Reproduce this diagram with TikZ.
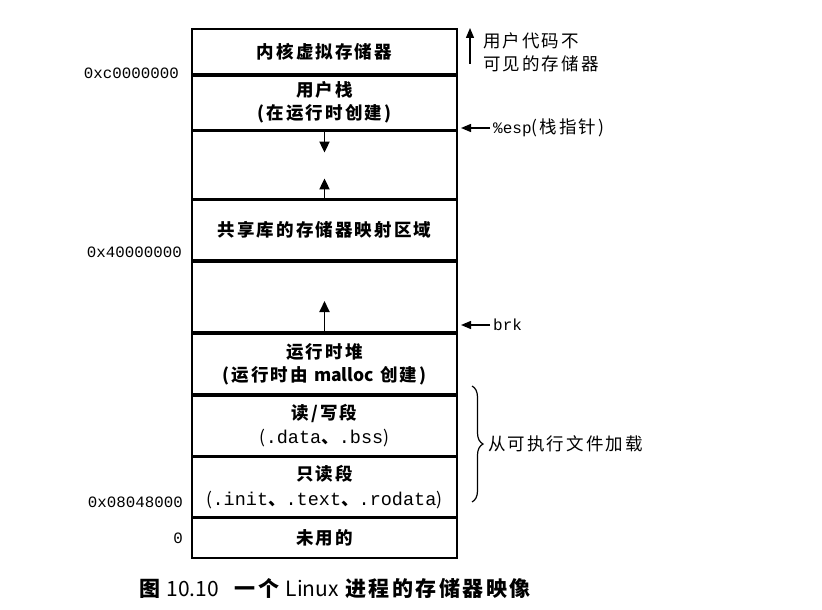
\documentclass[tikz,border=0pt]{standalone}
\usepackage{fontspec}
\setmonofont{Liberation Mono}
\newfontfamily\cjk[LetterSpace=12]{Noto Sans CJK SC}
\newfontfamily\cjkn{Noto Sans CJK SC}
\newfontfamily\cjkcap[LetterSpace=12]{Noto Sans CJK SC}
\usetikzlibrary{arrows.meta,decorations.pathreplacing}
\begin{document}
\begin{tikzpicture}[x=1pt,y=-1pt,
  seg/.style={draw, line width=1.8pt, minimum width=265pt, inner sep=0pt, anchor=north,
    font=\cjk\bfseries\fontsize{17.5}{23}\selectfont, align=center},
  codeseg/.style={seg, font=\cjk\bfseries\fontsize{17.5}{24.5}\selectfont},
  addr/.style={anchor=east, inner sep=0pt, font=\ttfamily\fontsize{15.8}{18}\selectfont},
  lab/.style={anchor=west, inner sep=0pt, font=\cjk\fontsize{17.5}{23}\selectfont, align=left},
  arr/.style={line width=1.8pt, -{Triangle[length=11pt,width=10pt]}},
  thinarr/.style={line width=1.3pt, -{Triangle[length=10pt,width=8pt]}}
]
\useasboundingbox (0,0) rectangle (822,610);
\newcommand\cd[1]{{\ttfamily\mdseries\fontsize{18.5}{24.5}\selectfont #1}}
\newcommand\pl{{\mdseries(}}
\newcommand\pr{{\mdseries)}}
% segments
\node[seg, minimum height=45pt] (kern) at (324.5,28) {内核虚拟存储器};
\node[seg, minimum height=54pt] (stack) at (kern.south) {用户栈\\(在运行时创建)};
\node[seg, minimum height=67pt] (gapa) at (stack.south) {};
\node[seg, minimum height=60pt] (shlib) at (gapa.south) {共享库的存储器映射区域};
\node[seg, minimum height=70pt] (gapb) at (shlib.south) {};
\node[seg, minimum height=60pt] (heap) at (gapb.south) {运行时堆\\(运行时由 {\cjkn malloc} 创建)};
\node[codeseg, minimum height=60pt] (rw) at (heap.south) {读/写段\\\pl\cd{.data}、\cd{.bss}\pr};
\node[codeseg, minimum height=59pt] (ro) at (rw.south) {只读段\\\pl\cd{.init}、\cd{.text}、\cd{.rodata}\pr};
\node[seg, minimum height=40pt] (unused) at (ro.south) {未用的};
% growth arrows
\coordinate (sdown) at ([yshift=-22pt]stack.south);
\draw[arr] (stack.south) -- (sdown);
\coordinate (lup) at ([yshift=21pt]shlib.north);
\draw[arr] (shlib.north) -- (lup);
\coordinate (hup) at ([yshift=32pt]heap.north);
\draw[arr] (heap.north) -- (hup);
% addresses
\node[addr] (ac) at (179,73) {0xc0000000};
\node[addr] (a4) at (182,252) {0x40000000};
\node[addr] (a8) at (183,502) {0x08048000};
\node[addr] (a0) at (183,538) {0};
% right labels
\node[lab] (invis) at (483,52) {用户代码不\\可见的存储器};
\coordinate (ib) at (470,64);
\coordinate (it) at (470,28);
\draw[thinarr] (ib) -- (it);
\node[lab] (esp) at (493,128) {{\ttfamily\fontsize{16}{18}\selectfont\%esp}(栈指针)};
\coordinate (espt) at (461,128);
\draw[thinarr] (esp.west) ++(-3,0) coordinate (espf) (espf) -- (espt);
\node[lab] (brk) at (493,325) {{\ttfamily\fontsize{16}{18}\selectfont brk}};
\coordinate (brkt) at (461,325);
\draw[thinarr] (brk.west) ++(-3,0) coordinate (brkf) (brkf) -- (brkt);
% brace
\coordinate (bt) at (472,386);
\coordinate (bb) at (472,502);
\draw[line width=1.2pt, decorate, decoration={brace, amplitude=11pt}] (bt) -- (bb);
\node[lab] (load) at (488,444) {从可执行文件加载};
% caption
\node[inner sep=0pt] (cap) at (335,588) {\fontsize{21}{24}\selectfont{\cjkcap\bfseries 图} {\cjkn 10.10}\hspace{16pt}{\cjkcap\bfseries 一个} {\cjkn Linux} {\cjkcap\bfseries 进程的存储器映像}};
\end{tikzpicture}
\end{document}
